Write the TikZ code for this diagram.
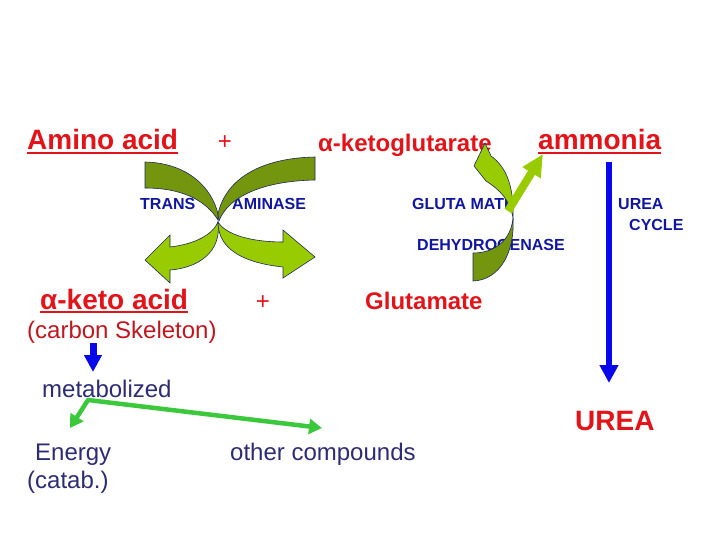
\documentclass[tikz,border=0pt]{standalone}
\usepackage{fontspec}
\setmainfont{Liberation Sans}
\usetikzlibrary{positioning, arrows.meta}
\definecolor{slidered}{RGB}{226,20,26}
\definecolor{darkred}{RGB}{192,22,30}
\definecolor{enzblue}{RGB}{16,22,160}
\definecolor{navytext}{RGB}{44,44,116}
\definecolor{arrowblue}{RGB}{8,8,235}
\definecolor{olivegreen}{RGB}{116,150,14}
\definecolor{limegreen}{RGB}{153,204,0}
\definecolor{metgreen}{RGB}{60,200,60}
\definecolor{edgenavy}{RGB}{30,40,90}

\begin{document}
\begin{tikzpicture}[x=1pt,y=-1pt,on grid,
  big/.style={font=\fontsize{28}{32}\selectfont\bfseries,text=slidered,inner sep=0pt,anchor=base west},
  mid/.style={font=\fontsize{24}{28}\selectfont\bfseries,text=slidered,inner sep=0pt,anchor=base west},
  plain/.style={font=\fontsize{24}{28}\selectfont,text=navytext,inner sep=0pt,anchor=base west},
  enzyme/.style={font=\fontsize{16}{19}\selectfont\bfseries,text=enzblue,inner sep=0pt,anchor=base west},
  plus/.style={font=\fontsize{24}{28}\selectfont,text=slidered,inner sep=0pt},
  uline/.style={slidered,line width=2.5pt},
  band/.style={fill=olivegreen,draw=edgenavy,line width=0.6pt},
  bandhead/.style={fill=limegreen,draw=edgenavy,line width=0.6pt},
  bluearrow/.style={arrowblue,line width=6pt,-{Triangle[length=18pt,width=18pt]}},
  forkline/.style={metgreen,line width=4.5pt,line join=round,
    {Triangle[length=13pt,width=15pt]}-{Triangle[length=13pt,width=15pt]}}]
  \useasboundingbox (0,0) rectangle (720,540);

  % Define texts
  \node[big] (amino) at (27,150) {Amino acid};
  \node[plus] (plus_a) at (225,143) {+};
  \node[mid] (ketoglut) at (318,152) {α-ketoglutarate};
  \node[big] (ammonia) at (538,150) {ammonia};
  \node[enzyme] (trans) at (140,210) {TRANS};
  \node[enzyme] (aminase) at (232,210) {AMINASE};
  \node[enzyme] (gluta) at (412,210) {GLUTA MATE};
  \node[enzyme] (dehydro) at (417,250) {DEHYDROGENASE};
  \node[enzyme] (urea_c) at (618,210) {UREA};
  \node[enzyme, below right=20pt and 11pt of urea_c.base west, anchor=base west] (cycle) {CYCLE};
  \node[big] (keto_acid) at (40,309) {α-keto acid};
  \node[plus] (plus_b) at (263,303) {+};
  \node[mid] (glutamate) at (365,309) {Glutamate};
  \node[plain, text=darkred, below left=29pt and 13pt of keto_acid.base west, anchor=base west] (carbon_sk) {(carbon Skeleton)};
  \node[plain] (metab) at (42,397) {metabolized};
  \node[plain] (energy) at (35,460) {Energy};
  \node[plain, below left=28pt and 8pt of energy.base west, anchor=base west] (catab) {(catab.)};
  \node[plain] (other) at (230,460) {other compounds};
  \node[big] (urea) at (575,430) {UREA};

  \draw[uline] ([yshift=-3pt]amino.base west) -- ([yshift=-3pt]amino.base east);
  \draw[uline] ([yshift=-3pt]ammonia.base west) -- ([yshift=-3pt]ammonia.base east);
  \draw[uline] ([yshift=-3pt]keto_acid.base west) -- ([yshift=-3pt]keto_acid.base east);

  % Transaminase cross
  \draw[bandhead] (218,222) .. controls (222,252) and (198,268) .. (170,270)
    -- (170,283) -- (145,260) -- (170,235) -- (170,247)
    .. controls (196,244) and (213,234) .. (218,222) -- cycle;
  \draw[bandhead] (218,222) .. controls (226,235) and (252,242) .. (283,242)
    -- (283,230) -- (315,257) -- (283,278) -- (283,267)
    .. controls (245,263) and (218,250) .. (218,222) -- cycle;
  \draw[band] (145,162) .. controls (188,163) and (212,188) .. (218,214)
    -- (218,220) .. controls (205,199) and (180,188) .. (145,188) -- cycle;
  \draw[band] (315,157) .. controls (262,158) and (226,178) .. (218,214)
    -- (219,221) .. controls (228,197) and (262,181) .. (315,180) -- cycle;

  % Glutamate dehydrogenase
  \coordinate (nh3_from) at (508,211);
  \coordinate (nh3_to) at (543,154);
  \draw[band] (473,253) -- (473,281) .. controls (500,280) and (515,252) .. (513,218)
    .. controls (511,240) and (495,253) .. (473,253) -- cycle;
  \draw[bandhead] (513,218) .. controls (514,190) and (508,168) .. (491,156)
    -- (485,143) -- (474,166) -- (486,181)
    .. controls (500,190) and (510,200) .. (513,218) -- cycle;
  \draw[limegreen,line width=8pt,-{Triangle[length=22pt,width=20pt]}] (nh3_from) -- (nh3_to);

  % Urea cycle and carbon skeleton
  \coordinate (cycle_top) at (609,162);
  \coordinate (cycle_end) at (609,383);
  \draw[bluearrow] (cycle_top) -- (cycle_end);
  \coordinate (skel_top) at (93,343);
  \coordinate (skel_end) at (93,372);
  \draw[arrowblue,line width=7pt,-{Triangle[length=17pt,width=17pt]}] (skel_top) -- (skel_end);

  \coordinate (split) at (88,400);
  \coordinate (energy_tip) at (70,428);
  \coordinate (other_tip) at (322,428);
  \draw[forkline] (energy_tip) -- (split) -- (other_tip);

\end{tikzpicture}
\end{document}
